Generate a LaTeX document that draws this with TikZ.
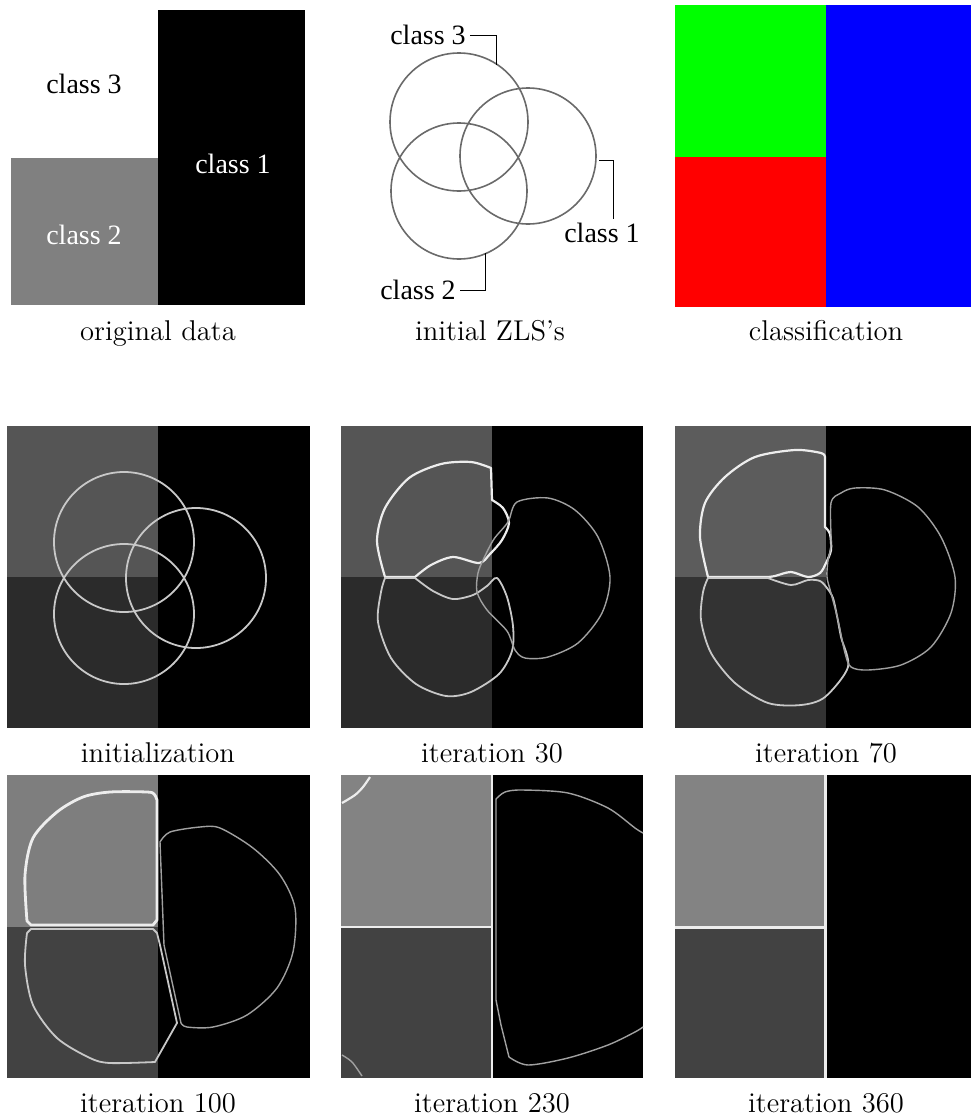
\documentclass[tikz,border=0pt]{standalone}
\usepackage{fontspec}
\usepackage{tikz}
\usetikzlibrary{positioning,calc}
\newfontfamily\timesfont{Liberation Serif}
\definecolor{midgray}{HTML}{808080}
\definecolor{upA}{HTML}{555555}
\definecolor{lowA}{HTML}{2B2B2B}
\definecolor{upB}{HTML}{5C5C5C}
\definecolor{lowB}{HTML}{333333}
\definecolor{upC}{HTML}{7E7E7E}
\definecolor{upD}{HTML}{838383}
\definecolor{lowC}{HTML}{424242}
\definecolor{zlsline}{HTML}{6A6A6A}
\definecolor{brightline}{HTML}{EDEDED}
\definecolor{softline}{HTML}{C8C8C8}
\definecolor{dimline}{HTML}{A0A0A0}
\definecolor{clsgreen}{HTML}{00FF00}
\definecolor{clsred}{HTML}{FF0000}
\definecolor{clsblue}{HTML}{0000FF}
\tikzset{
  figcap/.style={font=\fontsize{14.3}{17}\selectfont, anchor=base, inner sep=0pt},
  inlab/.style={font=\timesfont\fontsize{14}{16}\selectfont, inner sep=2pt},
  zls/.style={draw=zlsline, line width=0.8pt},
  leader/.style={draw=black, line width=0.5pt},
  ctrA/.style={draw=brightline, line width=1.1pt, line join=round},
  ctrB/.style={draw=softline, line width=0.9pt, line join=round},
  ctrC/.style={draw=dimline, line width=0.7pt, line join=round},
}
\begin{document}
\begin{tikzpicture}[x=0.5pt, y=-0.5pt]
  \useasboundingbox (0,0) rectangle (971,1120);
  % original data
  \fill[black] (158,10) rectangle (305,305);
  \fill[midgray] (11,158) rectangle (158,305);
  \node[inlab] (t3) at (84,84) {class 3};
  \node[inlab, text=white] (t1) at (233,164) {class 1};
  \node[inlab, text=white] (t2) at (84,235) {class 2};
  % initial ZLS's
  \begin{scope}[shift={(342,6)}]
    \draw[zls] (117,116) circle[radius=69];
    \draw[zls] (117,185) circle[radius=68];
    \draw[zls] (186,150) circle[radius=68];
  \end{scope}
  \coordinate (z3tip) at (496,65);
  \coordinate (z1tip) at (599,160);
  \coordinate (z2tip) at (485,253);
  \node[inlab] (l3) at (428,35) {class 3};
  \node[inlab] (l1) at (602,233) {class 1};
  \node[inlab] (l2) at (418,290) {class 2};
  \draw[leader] (l3.east) -| (z3tip);
  \draw[leader] (z1tip) -| ([xshift=5.5pt]l1.north);
  \draw[leader] (l2.east) -| (z2tip);
  % classification
  \fill[clsgreen] (675,5) rectangle (826,157);
  \fill[clsred] (675,157) rectangle (826,307);
  \fill[clsblue] (826,5) rectangle (971,307);
  % initialization
  \begin{scope}[shift={(7,426)}]
    \fill[black] (0,0) rectangle (303,302);
    \fill[upA] (0,0) rectangle (151,151);
    \fill[lowA] (0,151) rectangle (151,302);
    \draw[ctrB] (117,116) circle[radius=70];
    \draw[ctrB] (117,188) circle[radius=70];
    \draw[ctrB] (189,152) circle[radius=70];
  \end{scope}
  % iteration 30
  \begin{scope}[shift={(341,426)}]
    \fill[black] (0,0) rectangle (302,302);
    \fill[upA] (0,0) rectangle (151,151);
    \fill[lowA] (0,151) rectangle (151,302);
    \draw[ctrA] (44,151) -- plot[smooth] coordinates {(44,151) (36,115) (44,82) (68,52) (100,38) (130,36) (150,42)} -- (151,74)
      -- plot[smooth] coordinates {(151,74) (162,82) (168,97) (161,114) (149,128) (138,137) (112,131) (90,139) (74,151)} -- cycle;
    \draw[ctrB] (44,152) -- (74,152) -- plot[smooth] coordinates {(74,152) (92,165) (112,173) (132,169) (146,160) (156,152) (166,171) (172,200) (171,225) (158,248) (130,266) (105,270) (75,258) (50,232) (37,196) (40,166) (44,152)};
    \draw[ctrC] plot[smooth cycle] coordinates {(176,76) (207,72) (234,84) (257,111) (269,151) (261,187) (237,217) (207,231) (184,232) (174,224) (166,205) (146,184) (136,166) (137,147) (143,132) (153,113) (167,96)};
  \end{scope}
  % iteration 70
  \begin{scope}[shift={(675,426)}]
    \fill[black] (0,0) rectangle (296,302);
    \fill[upB] (0,0) rectangle (151,151);
    \fill[lowB] (0,151) rectangle (151,302);
    \draw[ctrA] (33,151) -- plot[smooth] coordinates {(33,151) (25,111) (30,77) (50,51) (80,31) (120,24) (146,27) (150,31)} -- (150,101)
      -- plot[smooth] coordinates {(150,101) (155,108) (156,124) (151,137) (145,147) (133,151) (116,146) (100,150) (93,151)} -- cycle;
    \draw[ctrB] (33,152) -- (93,152) -- plot[smooth] coordinates {(93,152) (116,159) (133,154) (145,155) (152,162) (158,172) (162,190) (166,211) (173,241) (150,271) (126,279) (93,277) (60,257) (36,227) (26,194) (28,166) (33,152)};
    \draw[ctrC] plot[smooth cycle] coordinates {(156,77) (166,67) (180,62) (210,64) (243,81) (266,111) (280,151) (276,187) (256,221) (226,239) (193,244) (176,241) (170,227) (163,194) (156,167) (152,151) (153,134) (156,118)};
  \end{scope}
  % iteration 100
  \begin{scope}[shift={(7,775)}]
    \fill[black] (0,0) rectangle (303,303);
    \fill[upC] (0,0) rectangle (151,152);
    \fill[lowC] (0,152) rectangle (151,303);
    \draw[ctrA, line width=1.4pt] (20,146) -- plot[smooth] coordinates {(20,146) (18,100) (26,63) (50,37) (76,22) (103,17) (140,17) (147,19) (150,25)} -- (150,145) -- (146,150) -- (24,150) -- cycle;
    \draw[ctrB] (20,158) -- (24,154) -- (146,154) -- (150,158) -- (153,170) -- (170,248) -- (148,287) -- plot[smooth] coordinates {(148,287) (103,288) (83,283) (50,263) (26,230) (18,190) (20,158)};
    \draw[ctrC] (157,170) -- (153,67) -- plot[smooth] coordinates {(153,67) (163,57) (193,52) (213,53) (246,73) (273,100) (288,133) (286,177) (270,213) (240,240) (206,252) (180,252) (174,248)} -- cycle;
  \end{scope}
  % iteration 230
  \begin{scope}[shift={(341,775)}]
    \fill[black] (0,0) rectangle (302,303);
    \fill[upD] (0,0) rectangle (151,152);
    \fill[lowC] (0,152) rectangle (151,303);
    \draw[ctrA, line width=1.3pt] (151,0) -- (151,303);
    \draw[ctrA, line width=1.3pt] (0,152) -- (151,152);
    \draw[ctrC] (302,58) -- plot[smooth] coordinates {(302,58) (294,53) (267,33) (227,18) (181,15) (164,17) (155,24)} -- (155,225) -- (160,250) -- (168,282)
      -- plot[smooth] coordinates {(168,282) (187,290) (227,283) (267,270) (294,257) (302,252)};
    \draw[ctrA] plot[smooth] coordinates {(1,28) (14,20) (22,12) (29,2)};
    \draw[ctrC] plot[smooth] coordinates {(1,280) (11,287) (21,301)};
  \end{scope}
  % iteration 360
  \begin{scope}[shift={(675,775)}]
    \fill[black] (0,0) rectangle (296,303);
    \fill[upD] (0,0) rectangle (150,152);
    \fill[lowC] (0,152) rectangle (150,303);
    \draw[ctrA, line width=1.5pt] (150,0) -- (150,303);
    \draw[ctrA, line width=1.5pt] (0,152) -- (150,152);
  \end{scope}
  % captions
  \node[figcap] (c1) at (158,340) {original data};
  \node[figcap] (c2) at (490,340) {initial ZLS's};
  \node[figcap] (c3) at (826,340) {classification};
  \node[figcap] (c4) at (158,762) {initialization};
  \node[figcap] (c5) at (492,762) {iteration 30};
  \node[figcap] (c6) at (826,762) {iteration 70};
  \node[figcap] (c7) at (158,1112) {iteration 100};
  \node[figcap] (c8) at (492,1112) {iteration 230};
  \node[figcap] (c9) at (826,1112) {iteration 360};
\end{tikzpicture}
\end{document}
